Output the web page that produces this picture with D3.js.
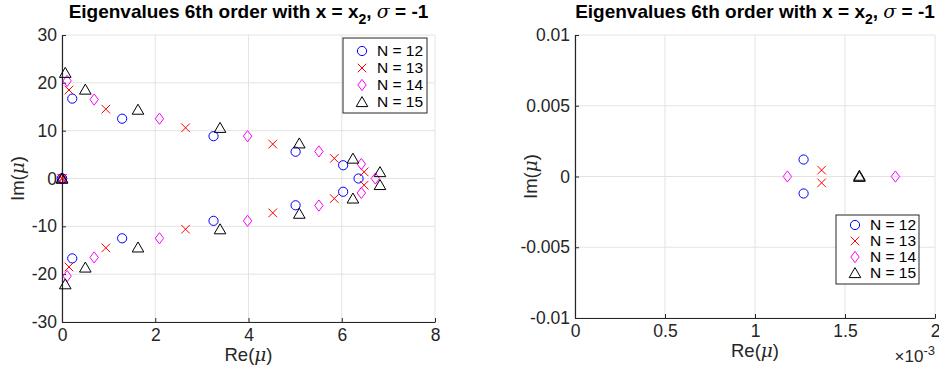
<!DOCTYPE html>
<html><head><meta charset="utf-8">
<script src="https://cdn.jsdelivr.net/npm/d3@7"></script>
<style>body{margin:0;background:#fff}svg{font-family:"Liberation Sans",Arial,sans-serif}</style>
</head><body><svg id="c" width="939" height="366"></svg>
<script>
// ---- data ----
const seriesNames = ["N = 12", "N = 13", "N = 14", "N = 15"];
const n12Re = [0.00127, 0.00127, 0.22, 0.22, 1.29, 1.29, 3.25, 3.25, 5.01, 5.01, 6.03, 6.03, 6.36];
const n12Im = [0.0012, -0.0012, 16.7, -16.7, 12.5, -12.5, 8.85, -8.85, 5.6, -5.6, 2.77, -2.77, 0];
const n13Re = [0.00137, 0.00137, 0.15, 0.15, 0.94, 0.94, 2.65, 2.65, 4.52, 4.52, 5.84, 5.84, 6.48, 6.48];
const n13Im = [0.00045, -0.00045, 18.5, -18.5, 14.5, -14.5, 10.6, -10.6, 7.19, -7.19, 4.2, -4.2, 1.39, -1.39];
const n14Re = [0.00118, 0.00178, 0.11, 0.11, 0.69, 0.69, 2.09, 2.09, 3.98, 3.98, 5.51, 5.51, 6.42, 6.42, 6.72];
const n14Im = [0, 0, 20.4, -20.4, 16.5, -16.5, 12.5, -12.5, 8.85, -8.85, 5.66, -5.66, 3.02, -3.02, 0];
const n15Re = [0.00158, 0.00158, 0.07, 0.07, 0.5, 0.5, 1.63, 1.63, 3.39, 3.39, 5.09, 5.09, 6.24, 6.24, 6.82, 6.82];
const n15Im = [0.00006, -0.00002, 22.1, -22.1, 18.6, -18.6, 14.4, -14.4, 10.6, -10.6, 7.35, -7.35, 4.17, -4.17, 1.35, -1.35];
const leftXTicks = [0, 2, 4, 6, 8];
const leftXTickLabels = ["0", "2", "4", "6", "8"];
const leftYTicks = [-30, -20, -10, 0, 10, 20, 30];
const leftYTickLabels = ["-30", "-20", "-10", "0", "10", "20", "30"];
const rightXTicks = [0, 0.0005, 0.001, 0.0015, 0.002];
const rightXTickLabels = ["0", "0.5", "1", "1.5", "2"];
const rightYTicks = [-0.01, -0.005, 0, 0.005, 0.01];
const rightYTickLabels = ["-0.01", "-0.005", "0", "0.005", "0.01"];

const series = [
  {name: seriesNames[0], re: n12Re, im: n12Im, color: "#0000ff", sym: "circle"},
  {name: seriesNames[1], re: n13Re, im: n13Im, color: "#ff0000", sym: "x"},
  {name: seriesNames[2], re: n14Re, im: n14Im, color: "#ff00ff", sym: "diamond"},
  {name: seriesNames[3], re: n15Re, im: n15Im, color: "#000000", sym: "triangle"}
];

const svg = d3.select("#c");
const axisColor = "#262626", gridColor = "#e3e3e3";

function marker(g, sym, color) {
  let el;
  if (sym === "circle") el = g.append("circle").attr("r", 4.6);
  else if (sym === "x") el = g.append("path").attr("d", "M-4.3,-4.3L4.3,4.3M-4.3,4.3L4.3,-4.3");
  else if (sym === "diamond") el = g.append("path").attr("d", "M0,-5.6L4.2,0L0,5.6L-4.2,0Z");
  else el = g.append("path").attr("d", "M0,-5.4L5.8,4.6L-5.8,4.6Z");
  el.attr("fill", "none").attr("stroke", color).attr("stroke-width", 1);
}

function panel(opt) {
  const {x0, x1, y0, y1, xDomain, yDomain, xTicks, yTicks, xLabels, yLabels, legend, id} = opt;
  const x = d3.scaleLinear().domain(xDomain).range([x0, x1]);
  const y = d3.scaleLinear().domain(yDomain).range([y1, y0]);
  const g = svg.append("g");
  // grid
  g.append("g").selectAll("line").data(xTicks).join("line")
    .attr("x1", d => x(d)).attr("x2", d => x(d)).attr("y1", y0).attr("y2", y1)
    .attr("stroke", gridColor).attr("stroke-width", 1);
  g.append("g").selectAll("line").data(yTicks).join("line")
    .attr("y1", d => y(d)).attr("y2", d => y(d)).attr("x1", x0).attr("x2", x1)
    .attr("stroke", gridColor).attr("stroke-width", 1);
  // axes
  const ax = g.append("g").attr("transform", `translate(0,${y1})`)
    .call(d3.axisBottom(x).tickValues(xTicks).tickFormat((d, i) => xLabels[i]).tickSizeInner(-4).tickSizeOuter(0).tickPadding(6));
  const ay = g.append("g").attr("transform", `translate(${x0},0)`)
    .call(d3.axisLeft(y).tickValues(yTicks).tickFormat((d, i) => yLabels[i]).tickSizeInner(-4).tickSizeOuter(0).tickPadding(5));
  [ax, ay].forEach(a => {
    a.select(".domain").attr("stroke", axisColor).attr("stroke-width", 1.2);
    a.selectAll(".tick line").attr("stroke", axisColor);
    a.selectAll(".tick text").attr("fill", "#262626").attr("font-size", 17.5).attr("font-family", "Liberation Sans, Arial, sans-serif");
  });
  ax.selectAll(".tick text").attr("dy", "0.75em");
  // clip
  svg.append("clipPath").attr("id", id).append("rect")
    .attr("x", x0 - 7).attr("y", y0 - 7).attr("width", x1 - x0 + 14).attr("height", y1 - y0 + 14);
  const pg = g.append("g").attr("clip-path", `url(#${id})`);
  const xr = x.domain(), yr = y.domain();
  series.forEach(s => {
    s.re.forEach((r, i) => {
      const im = s.im[i];
      if (r < xr[0] - 1e-12 || r > xr[1] || im < yr[0] || im > yr[1]) return;
      const m = pg.append("g").attr("transform", `translate(${x(r)},${y(im)})`);
      marker(m, s.sym, s.color);
    });
  });
  // title
  const t = g.append("text").attr("x", (x0 + x1) / 2).attr("y", 18).attr("text-anchor", "middle")
    .attr("font-size", 19).attr("font-weight", "bold").attr("fill", "#000");
  t.append("tspan").text("Eigenvalues 6th order with x = x");
  t.append("tspan").text("2").attr("dy", 6).attr("font-size", 14);
  t.append("tspan").text(", ").attr("dy", -6);
  t.append("tspan").text("σ").attr("font-style", "italic").attr("font-weight", "normal").attr("font-family", "DejaVu Serif, serif");
  t.append("tspan").text(" = -1");
  // axis labels
  const xl = g.append("text").attr("x", (x0 + x1) / 2).attr("y", opt.xLabelY).attr("text-anchor", "middle")
    .attr("font-size", 18.5).attr("fill", "#262626");
  xl.append("tspan").text("Re(");
  xl.append("tspan").text("μ").attr("font-style", "italic").attr("font-family", "DejaVu Serif, serif");
  xl.append("tspan").text(")");
  const yl = g.append("text").attr("transform", `translate(${opt.yLabelX},${(y0 + y1) / 2}) rotate(-90)`)
    .attr("text-anchor", "middle").attr("font-size", 18.5).attr("fill", "#262626");
  yl.append("tspan").text("Im(");
  yl.append("tspan").text("μ").attr("font-style", "italic").attr("font-family", "DejaVu Serif, serif");
  yl.append("tspan").text(")");
  // legend
  const lg = g.append("g");
  lg.append("rect").attr("x", legend.x).attr("y", legend.y).attr("width", legend.w).attr("height", legend.h)
    .attr("fill", "#fff").attr("stroke", axisColor).attr("stroke-width", 1);
  series.forEach((s, i) => {
    const cy = legend.y + legend.first + i * legend.step;
    const m = lg.append("g").attr("transform", `translate(${legend.x + 19},${cy})`);
    marker(m, s.sym, s.color);
    lg.append("text").attr("x", legend.x + 34).attr("y", cy).attr("dy", "0.35em")
      .attr("font-size", 15.5).attr("fill", "#000").text(s.name);
  });
  return {x, y, g};
}

panel({id: "clipL", x0: 62, x1: 435, y0: 35, y1: 322, xDomain: [0, 8], yDomain: [-30, 30],
  xTicks: leftXTicks, yTicks: leftYTicks, xLabels: leftXTickLabels, yLabels: leftYTickLabels,
  xLabelY: 361, yLabelX: 24,
  legend: {x: 343, y: 38, w: 84, h: 75, first: 13, step: 17}});

const R = panel({id: "clipR", x0: 575, x1: 935, y0: 35, y1: 318, xDomain: [0, 0.002], yDomain: [-0.01, 0.01],
  xTicks: rightXTicks, yTicks: rightYTicks, xLabels: rightXTickLabels, yLabels: rightYTickLabels,
  xLabelY: 357, yLabelX: 537,
  legend: {x: 836, y: 215, w: 83, h: 69, first: 10, step: 16}});

// exponent label
const ex = R.g.append("text").attr("x", 935).attr("y", 362).attr("text-anchor", "end")
  .attr("font-size", 17).attr("fill", "#262626");
ex.append("tspan").text("×10");
ex.append("tspan").text("-3").attr("dy", -7).attr("font-size", 13);
</script></body></html>
